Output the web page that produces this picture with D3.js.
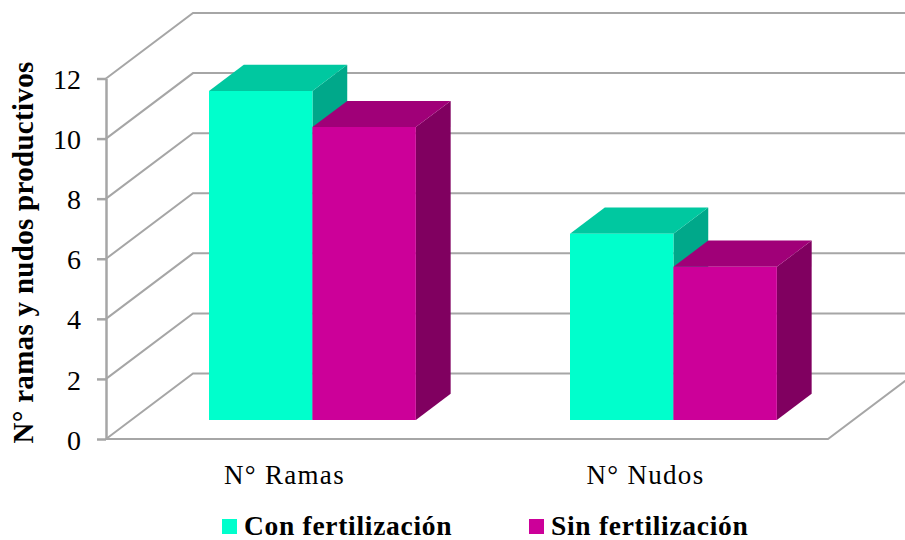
<!DOCTYPE html>
<html>
<head>
<meta charset="utf-8">
<script src="https://cdn.jsdelivr.net/npm/d3@7"></script>
<style>
html,body{margin:0;padding:0;background:#fff;overflow:hidden}
text{font-family:"Liberation Serif",serif;fill:#000}
</style>
</head>
<body>
<div id="chart"></div>
<script>
// valores
var categorias=["N° Ramas","N° Nudos"];
var series=["Con fertilización","Sin fertilización"];
var con_fert=[10.95,6.2];
var sin_fert=[9.75,5.1];
var ticks_y=[0,2,4,6,8,10,12];

var colores=[
  {front:"#00ffcc",top:"#00c8a0",side:"#00a88a"},
  {front:"#cc0099",top:"#a00078",side:"#800060"}
];
var valores=[con_fert,sin_fert];

var width=905,height=540;
var left=106,right=828,top0=78.5,bottom=439;
// desplazamiento de la pared del fondo (falso 3d)
var fondo_x=87,fondo_y=65.5;

var svg=d3.select("#chart").append("svg")
  .attr("width",width)
  .attr("height",height)
  .style("display","block");

var y=d3.scaleLinear().domain([0,12]).range([bottom,top0]);
var x=d3.scaleBand().domain(categorias).range([left,right]).paddingInner(0.427).paddingOuter(0.2135);
var x1=d3.scaleBand().domain(series).range([0,x.bandwidth()]);

// punto en el espacio: xx horizontal, v valor, d profundidad 0..1
function punto(xx,v,d){
  return [xx+d*fondo_x,y(v)-d*fondo_y];
}
function poli(pts){
  return pts.map(function(p){return p.join(",")}).join(" ");
}

var gris="#a6a6a6";

// rejilla: diagonal de la pared izquierda y linea del fondo
var rejilla=svg.append("g");
rejilla.selectAll("polyline")
  .data(ticks_y)
  .enter()
  .append("polyline")
  .attr("points",function(d){
    return poli([punto(left,d,0),punto(left,d,1),[width+5,y(d)-fondo_y]]);
  })
  .attr("fill","none")
  .attr("stroke",gris)
  .attr("stroke-width",2);

// suelo
rejilla.append("polyline")
  .attr("points",poli([punto(left,0,0),punto(right,0,0),punto(right,0,1)]))
  .attr("fill","none")
  .attr("stroke",gris)
  .attr("stroke-width",2);

// eje y
var eje=svg.append("g")
  .attr("transform","translate("+left+",0)")
  .call(d3.axisLeft(y).tickValues(ticks_y).tickSize(9).tickSizeOuter(0).tickPadding(16));
eje.selectAll("path,line").attr("stroke",gris).attr("stroke-width",2.5);
eje.selectAll("text").style("font-size","28px").attr("dy","0.36em");

// barras, la profundidad va de 0.29 a 0.69
var d0=0.29,d1=0.69;
categorias.forEach(function(c,i){
  // de atras hacia delante y de izquierda a derecha
  series.forEach(function(s,j){
    var v=valores[j][i];
    var a=x(c)+x1(s)+0.7,b=a+x1.bandwidth();
    var g=svg.append("g");
    g.append("polygon")
      .attr("points",poli([punto(b,0,d0),punto(b,0,d1),punto(b,v,d1),punto(b,v,d0)]))
      .attr("fill",colores[j].side);
    g.append("polygon")
      .attr("points",poli([punto(a,v,d0),punto(a,v,d1),punto(b,v,d1),punto(b,v,d0)]))
      .attr("fill",colores[j].top);
    g.append("polygon")
      .attr("points",poli([punto(a,0,d0),punto(b,0,d0),punto(b,v,d0),punto(a,v,d0)]))
      .attr("fill",colores[j].front);
  });
});

// etiquetas de categoria
svg.selectAll(".cat")
  .data(categorias)
  .enter()
  .append("text")
  .attr("class","cat")
  .attr("x",function(d){return x(d)+x.bandwidth()/2-2})
  .attr("y",484)
  .attr("text-anchor","middle")
  .style("font-size","27px")
  .style("letter-spacing","1.3px")
  .text(function(d){return d});

// titulo eje y
svg.append("text")
  .attr("transform","translate(33,252.5) rotate(-90)")
  .attr("text-anchor","middle")
  .style("font-size","29px")
  .style("font-weight","bold")
  .style("letter-spacing","0.3px")
  .text("N° ramas y nudos productivos");

// leyenda
var ley_x=[222,529];
var ley=svg.selectAll(".ley")
  .data(series)
  .enter()
  .append("g")
  .attr("class","ley")
  .attr("transform",function(d,i){return "translate("+ley_x[i]+",519)"});
ley.append("rect")
  .attr("width",15)
  .attr("height",15)
  .attr("fill",function(d,i){return colores[i].front});
ley.append("text")
  .attr("x",22)
  .attr("y",16)
  .style("font-size","27.5px")
  .style("font-weight","bold")
  .style("letter-spacing","0.7px")
  .text(function(d){return d});
</script>
</body>
</html>
